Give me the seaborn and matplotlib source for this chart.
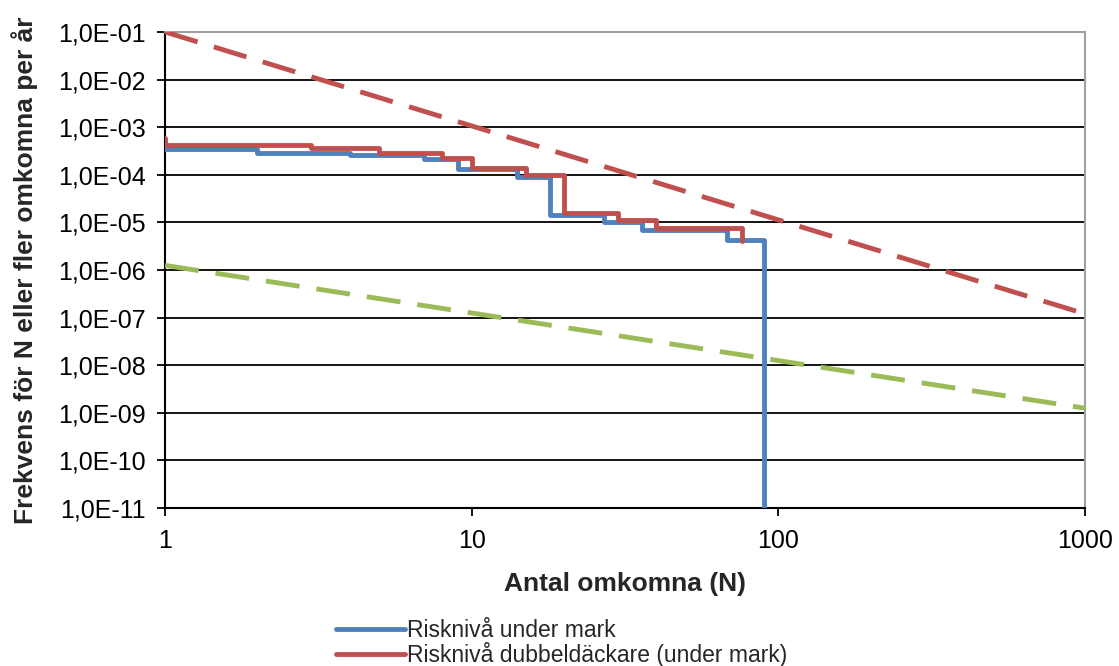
import numpy as np
import pandas as pd
import matplotlib
matplotlib.use("Agg")
import matplotlib.pyplot as plt
import seaborn as sns
from matplotlib.lines import Line2D
from matplotlib.ticker import FixedLocator, FuncFormatter, NullLocator

# Données (courbes F-N, marches "post")
n_under_mark = [1, 2, 4, 7, 9, 14, 18, 27, 36, 68, 90]
f_under_mark = [3.4e-4, 2.9e-4, 2.6e-4, 2.1e-4, 1.3e-4, 9.0e-5, 1.45e-5, 1.0e-5, 6.9e-6, 4.3e-6, 1e-11]

n_dubbeldack = [1, 1, 3, 5, 8, 10, 15, 20, 30, 40, 76]
f_dubbeldack = [6.0e-4, 4.3e-4, 3.7e-4, 2.9e-4, 2.3e-4, 1.4e-4, 1.0e-4, 1.6e-5, 1.15e-5, 7.7e-6, 4.0e-6]

# Critères d'acceptation (lignes pointillées)
n_kriterier = [1, 1000]
f_ovre = [1e-1, 1.2e-7]
f_nedre = [1.25e-6, 1.25e-9]

legend_labels = ["Risknivå under mark", "Risknivå dubbeldäckare (under mark)"]

blue = "#4F81BD"
red = "#C0504D"
green = "#9BBB59"

sns.set_style("white")
plt.rcParams["font.family"] = ["Liberation Sans", "DejaVu Sans"]

fig = plt.figure(figsize=(11.19, 6.66), dpi=100)
ax = fig.add_axes([0.1475, 0.2372, 0.8221, 0.7148])
ax.set_xscale("log")
ax.set_yscale("log")

sns.lineplot(x=n_kriterier, y=f_ovre, ax=ax, color=red, linewidth=3.5,
             linestyle=(0, (7, 3.5)), estimator=None, sort=False, zorder=3)
sns.lineplot(x=n_kriterier, y=f_nedre, ax=ax, color=green, linewidth=3.5,
             linestyle=(0, (7, 3.5)), estimator=None, sort=False, zorder=3)
sns.lineplot(x=n_under_mark, y=f_under_mark, ax=ax, color=blue, linewidth=3.5,
             drawstyle="steps-post", estimator=None, sort=False, zorder=4)
sns.lineplot(x=n_dubbeldack, y=f_dubbeldack, ax=ax, color=red, linewidth=3.5,
             drawstyle="steps-post", estimator=None, sort=False, zorder=5)

ax.set_xlim(1, 1000)
ax.set_ylim(1e-11, 1e-1)

yt = [10.0 ** -k for k in range(1, 12)]
ax.yaxis.set_major_locator(FixedLocator(yt))
ax.yaxis.set_minor_locator(NullLocator())
ax.yaxis.set_major_formatter(FuncFormatter(lambda v, p: f"1,0E-{int(round(-np.log10(v))):02d}"))
ax.xaxis.set_major_locator(FixedLocator([1, 10, 100, 1000]))
ax.xaxis.set_minor_locator(NullLocator())
ax.xaxis.set_major_formatter(FuncFormatter(lambda v, p: f"{int(round(v))}"))

ax.yaxis.grid(True, color="black", lw=1.3)
ax.xaxis.grid(False)
ax.set_axisbelow(True)

ax.tick_params(axis="both", which="major", direction="out", length=6, width=1.3,
               color="black", labelsize=18, labelcolor="black", left=True, bottom=True)
ax.tick_params(axis="y", pad=8)
ax.tick_params(axis="x", pad=9)

for side in ["left", "bottom"]:
    ax.spines[side].set_color("black")
    ax.spines[side].set_linewidth(1.5)
for side in ["top", "right"]:
    ax.spines[side].set_color("#A0A0A0")
    ax.spines[side].set_linewidth(1.5)

ax.set_xlabel("Antal omkomna (N)", fontsize=19, fontweight="bold", labelpad=14)
ax.set_ylabel("Frekvens för N eller fler omkomna per år", fontsize=19, fontweight="bold", labelpad=14)

handles = [Line2D([0], [0], color=blue, lw=3.5, solid_capstyle="round"),
           Line2D([0], [0], color=red, lw=3.5, solid_capstyle="round")]
fig.legend(handles, legend_labels, loc="center", bbox_to_anchor=(0.502, 0.035),
           frameon=False, fontsize=16.5, handlelength=3.0, handletextpad=0.1,
           labelspacing=0.0, borderpad=0)

fig.savefig("out.png", dpi=100)
